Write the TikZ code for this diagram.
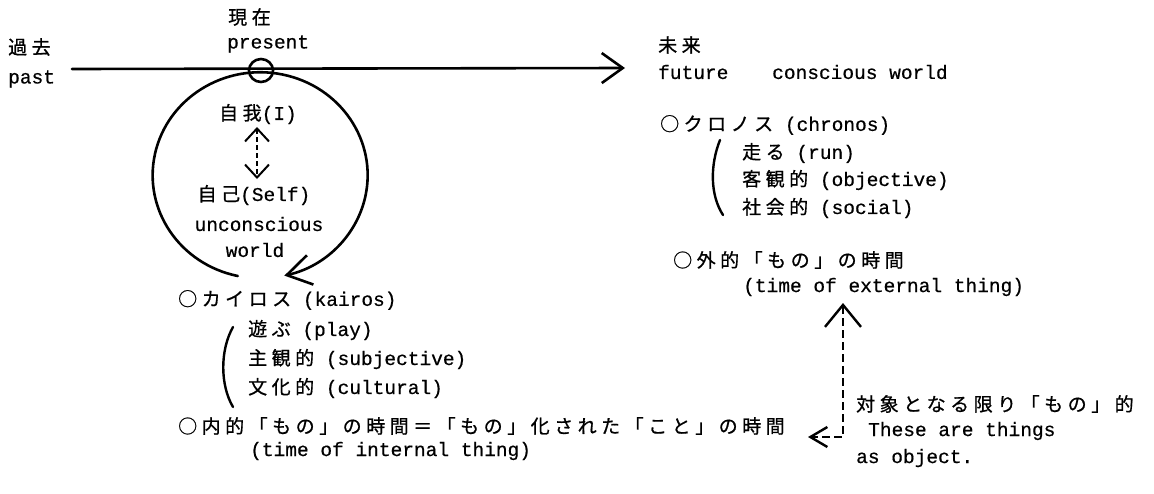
\documentclass[tikz,border=0pt]{standalone}
\usepackage{fontspec}
\setmainfont{Liberation Mono}[FakeBold=0.5]
\newfontfamily\jpfont{Noto Sans CJK JP}[FakeBold=0.8]
\usetikzlibrary{arrows.meta,shapes.geometric}
\newdimen\jsp \jsp=4.5pt
\makeatletter
\newcommand\J[1]{{\jpfont\fontsize{19}{22}\selectfont\J@loop#1\@nil\unkern}}
\def\J@loop#1{\ifx#1\@nil\else#1\kern\jsp\expandafter\J@loop\fi}
\makeatother
\newcommand\latsize{\fontsize{19.5}{22}\selectfont}
\tikzset{
  txt/.style={inner sep=0pt, anchor=west, font=\latsize},
  ctxt/.style={inner sep=0pt, anchor=center, font=\latsize},
  heavy/.style={line width=2.6pt, line cap=round, line join=round},
  bracketline/.style={line width=2.4pt, line cap=round},
  innerdash/.style={line width=2pt, dash pattern=on 5pt off 3pt},
  outerdash/.style={line width=2.4pt, dash pattern=on 8pt off 4pt},
}
\begin{document}
\begin{tikzpicture}[x=1pt,y=-1pt]
\useasboundingbox (0,0) rectangle (1154,493);
\fill[white] (0,0) rectangle (1154,493);

% time line
\node[txt] (kako) at (8,47) {\J{過去}};
\node[txt] (past) at (8,79) {past};
\node[txt] (genzai) at (228,17) {\J{現在}};
\node[txt] (present) at (227,44) {present};
\node[txt] (mirai) at (658,45) {\J{未来}};
\node[txt] (future) at (658,72) {future};
\node[txt] (cw) at (772,72) {conscious world};

\coordinate (lineS) at (72,69);
\coordinate (lineE) at (625,68);
\draw[heavy, -{Straight Barb[length=21pt,width=30pt]}] (lineS) -- (lineE);
\node[draw, ellipse, minimum width=24pt, minimum height=23pt, inner sep=0pt, heavy] (now) at (261,70.5) {};

% cycle
\coordinate (cycS) at (237.8,276);
\draw[heavy, -{Straight Barb[length=24pt,width=30pt]}] (cycS) arc[start angle=102, end angle=437, x radius=107.5, y radius=103];

\node[ctxt] (ego) at (258,114) {\J{自我}(I)};
\node[ctxt] (self) at (254,195) {\J{自己}(Self)};
\node[ctxt] (uncon) at (259,224) {unconscious};
\node[ctxt] (world) at (255,250) {world};
\coordinate (egoA) at (257,127);
\coordinate (selfA) at (257,179);
\draw[innerdash, {Straight Barb[length=13pt,width=24pt]}-{Straight Barb[length=13pt,width=24pt]}] (egoA) -- (selfA);

% chronos
\node[txt] (chronos) at (660,125) {\J{○クロノス} (chronos)};
\node[txt] (run) at (742,153) {\J{走る} (run)};
\node[txt] (obj) at (742,180) {\J{客観的} (objective)};
\node[txt] (soc) at (742,208) {\J{社会的} (social)};
\draw[bracketline] (720,140) .. controls (710,165) and (710,195) .. (723,215);
\node[txt] (ext) at (673,260) {\J{○外的「もの」の時間}};
\node[txt] (extE) at (743,287) {(time of external thing)};

% kairos
\node[txt] (kairos) at (178,300) {\J{○カイロス} (kairos)};
\node[txt] (play) at (248,330) {\J{遊ぶ} (play)};
\node[txt] (subj) at (248,359) {\J{主観的} (subjective)};
\node[txt] (cult) at (248,388) {\J{文化的} (cultural)};
\draw[bracketline] (233,327) .. controls (220,350) and (220,385) .. (233,407);
\node[txt] (inner) at (178,426) {\J{○内的「もの」の時間＝「もの」化された「こと」の時間}};
\node[txt] (innerE) at (250,451) {(time of internal thing)};

% object note
\node[txt] (taisho) at (856,404) {\J{対象となる限り「もの」的}};
\node[txt] (these) at (868,431) {These are things};
\node[txt] (asobj) at (856,458) {as object.};

\coordinate (upTip) at (843,303);
\coordinate (corner) at (843,437);
\coordinate (leftTip) at (808,437);
\draw[outerdash, {Straight Barb[length=22pt,width=36pt]}-{Straight Barb[length=17pt,width=20pt]}] (upTip) -- (corner) -- (leftTip);
\end{tikzpicture}
\end{document}
